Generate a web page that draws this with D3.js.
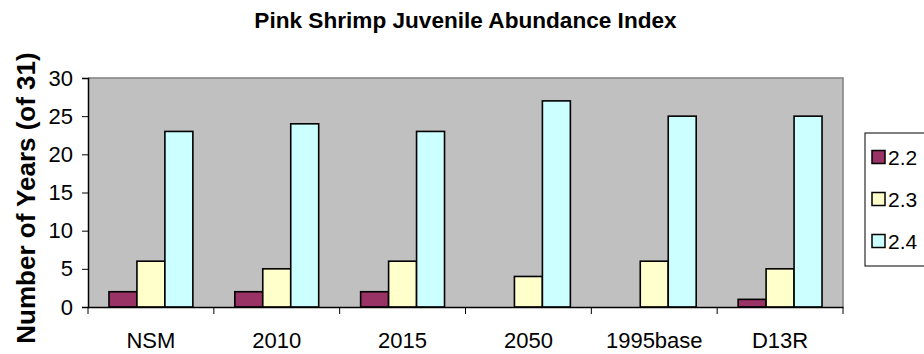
<!DOCTYPE html>
<html><head><meta charset="utf-8">
<script src="https://cdn.jsdelivr.net/npm/d3@7"></script>
<style>body{margin:0;background:#fff}svg{display:block}text{font-family:"Liberation Sans",Arial,sans-serif}</style>
</head><body><svg id="c" width="924" height="354"></svg>
<script>
const categories = ["NSM","2010","2015","2050","1995base","D13R"];
const seriesNames = ["2.2","2.3","2.4"];
const s22 = [2,2,2,0,0,1];
const s23 = [6,5,6,4,6,5];
const s24 = [23,24,23,27,25,25];
const colors = ["#993366","#FFFFCC","#CCFFFF"];
const yTicks = [0,5,10,15,20,25,30];
const title = "Pink Shrimp Juvenile Abundance Index";
const yTitle = "Number of Years (of 31)";

const series = [s22,s23,s24];
const svg = d3.select("#c");
const L=88,R=843,T=78,B=307;
const x = d3.scaleBand().domain(categories).range([L,R]).padding(0);
const y = d3.scaleLinear().domain([0,30]).range([B,T]);
const bw = x.bandwidth()/4.5;
const x1 = d3.scaleBand().domain(seriesNames).range([0,3*bw]).padding(0);
const off = (x.bandwidth()-3*bw)/2;

svg.append("rect").attr("x",L).attr("y",T).attr("width",R-L).attr("height",B-T).attr("fill","#C0C0C0");
svg.append("path").attr("d",`M${L},${T}H${R}V${B}`).attr("fill","none").attr("stroke","#808080").attr("stroke-width",1.5);

categories.forEach((c,i)=>{
  seriesNames.forEach((s,j)=>{
    const v = series[j][i];
    if(v<=0) return;
    svg.append("rect").attr("x",x(c)+off+x1(s)).attr("y",y(v)).attr("width",x1.bandwidth()).attr("height",B-y(v))
      .attr("fill",colors[j]).attr("stroke","#000").attr("stroke-width",1.6);
  });
});

// y axis
const ya = svg.append("g").attr("transform",`translate(${L},0)`).call(d3.axisLeft(y).tickValues(yTicks).tickSize(6).tickPadding(9).tickFormat(d3.format("d")));
ya.select(".domain").attr("stroke","#000").attr("stroke-width",1.5);
ya.selectAll(".tick line").attr("stroke","#000");
ya.selectAll("text").attr("font-size",22).attr("font-family","Liberation Sans, Arial").attr("fill","#000");

// x axis
const xa = svg.append("g").attr("transform",`translate(0,${B})`).call(d3.axisBottom(x).tickSize(0).tickPadding(25));
xa.select(".domain").attr("stroke","#000").attr("stroke-width",1.5);
xa.selectAll("text").attr("font-size",22).attr("font-family","Liberation Sans, Arial").attr("fill","#000");
const bounds = categories.map(c=>x(c)).concat([R]);
xa.selectAll(".bt").data(bounds).enter().append("line").attr("class","bt")
  .attr("x1",d=>d).attr("x2",d=>d).attr("y1",0).attr("y2",7).attr("stroke","#000");

// titles
svg.append("text").attr("x",465.5).attr("y",28).attr("text-anchor","middle").attr("font-size",22.6).attr("font-weight","bold").text(title);
svg.append("text").attr("transform","translate(35,198) rotate(-90)").attr("text-anchor","middle").attr("font-size",26).attr("font-weight","bold").text(yTitle);

// legend
const lg = svg.append("g");
lg.append("rect").attr("x",865).attr("y",133).attr("width",80).attr("height",133).attr("fill","#fff").attr("stroke","#000").attr("stroke-width",1);
seriesNames.forEach((s,j)=>{
  const cy = 157 + j*42;
  lg.append("rect").attr("x",872).attr("y",cy-6.5).attr("width",13).attr("height",13).attr("fill",colors[j]).attr("stroke","#000").attr("stroke-width",1.5);
  lg.append("text").attr("x",888).attr("y",cy+7.5).attr("font-size",21).text(s);
});
</script></body></html>
